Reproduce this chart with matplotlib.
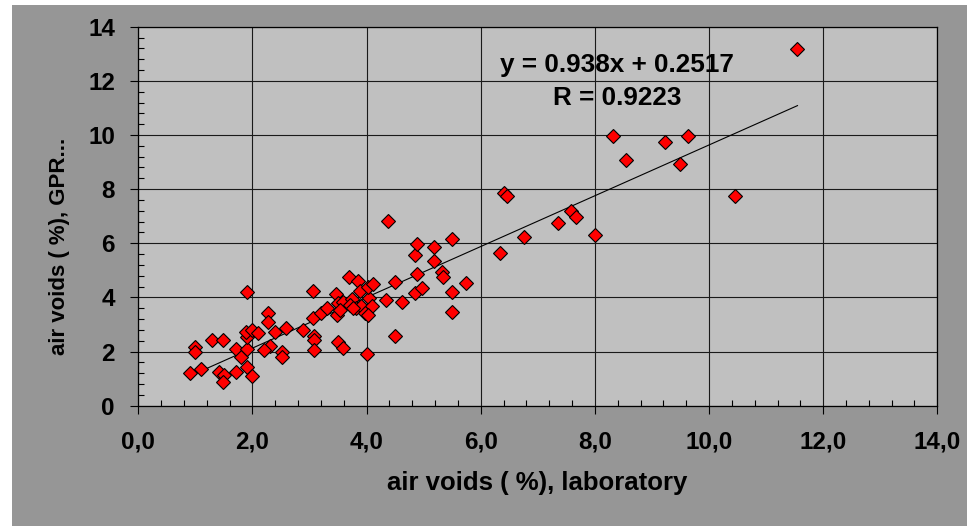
import numpy as np
import matplotlib.pyplot as plt
from matplotlib.ticker import MultipleLocator, FuncFormatter
from matplotlib.patches import Rectangle

plt.rcParams['font.family'] = ['Liberation Sans', 'DejaVu Sans']
plt.rcParams['font.weight'] = 'bold'

# air voids (%) - laboratory vs GPR
lab = [0.91, 0.99, 0.99, 1.10, 1.29, 1.49, 1.41, 1.50, 1.49, 1.71,
       1.71, 1.80, 1.90, 1.99, 1.90, 1.90, 1.89, 1.99, 2.10, 1.90,
       2.28, 2.28, 2.40, 2.58, 2.30, 2.21, 2.51, 2.51,
       2.89, 3.07, 3.07, 3.08, 3.08, 3.08, 3.21, 3.30, 3.48, 3.46,
       3.50, 3.50, 3.58, 3.58, 3.70, 3.85, 3.88, 3.74, 3.71, 3.81,
       3.91, 3.77, 4.05, 4.09, 3.97, 4.03, 4.03, 4.12, 4.00, 3.53,
       4.34, 4.38, 4.50, 4.50, 4.62, 4.84, 4.88, 4.88, 4.84, 4.97,
       5.18, 5.18, 5.33, 5.34, 5.49, 5.49, 5.49, 5.75,
       6.33, 6.41, 6.46, 6.75, 7.35, 7.58, 7.67, 8.00, 8.31, 8.54,
       9.23, 9.49, 9.64, 10.46, 11.55]
gpr = [1.20, 2.16, 2.00, 1.34, 2.43, 2.43, 1.26, 1.13, 0.86, 1.26,
       2.08, 1.81, 1.42, 1.10, 2.08, 2.55, 2.73, 2.80, 2.67, 4.19,
       3.41, 3.08, 2.73, 2.88, 2.21, 2.06, 2.00, 1.81,
       2.80, 4.25, 3.25, 2.59, 2.43, 2.06, 3.44, 3.60, 3.35, 4.13,
       3.78, 2.36, 3.84, 2.14, 4.77, 4.62, 4.25, 3.93, 3.72, 3.62,
       3.69, 3.60, 3.97, 3.69, 3.41, 3.35, 4.37, 4.48, 1.91, 3.52,
       3.90, 6.81, 4.56, 2.57, 3.82, 5.57, 5.96, 4.87, 4.17, 4.34,
       5.87, 5.36, 4.95, 4.77, 6.16, 4.19, 3.45, 4.54,
       5.64, 7.85, 7.76, 6.23, 6.74, 7.20, 6.96, 6.31, 9.96, 9.08,
       9.73, 8.94, 9.97, 7.76, 13.18]

slope = 0.938
intercept = 0.2517
r_value = 0.9223

fig = plt.figure(figsize=(9.67, 5.26), dpi=100)
fig.patches.append(Rectangle((12 / 967, 0), 1, 1 - 5 / 526, transform=fig.transFigure,
                             facecolor='#969696', edgecolor='none', zorder=-10))
ax = fig.add_axes([0.1430, 0.2287, 0.8263, 0.7205])
ax.set_facecolor('#c0c0c0')

ax.set_xlim(0, 14)
ax.set_ylim(0, 14)
ax.xaxis.set_major_locator(MultipleLocator(2))
ax.xaxis.set_minor_locator(MultipleLocator(0.4))
ax.yaxis.set_major_locator(MultipleLocator(2))
ax.yaxis.set_minor_locator(MultipleLocator(0.4))
ax.xaxis.set_major_formatter(FuncFormatter(lambda v, p: f'{v:.1f}'.replace('.', ',')))
ax.yaxis.set_major_formatter(FuncFormatter(lambda v, p: f'{v:.0f}'))

ax.grid(True, which='major', color='#1a1a1a', linewidth=0.8)
ax.set_axisbelow(True)
ax.tick_params(which='major', direction='out', length=5.8, width=0.8,
               labelsize=17.5, colors='black')
ax.tick_params(axis='x', which='major', pad=12)
ax.tick_params(axis='y', which='major', pad=11)
ax.tick_params(which='minor', direction='in', length=4.3, width=0.8)
for s in ax.spines.values():
    s.set_color('black')
    s.set_linewidth(0.9)

# trend line
xt = np.array([min(lab), max(lab)])
ax.plot(xt, slope * xt + intercept, color='black', linewidth=0.8, zorder=2)

ax.plot(lab, gpr, linestyle='none', marker='D', markersize=7.5,
        markerfacecolor='#ff0000', markeredgecolor='black', markeredgewidth=0.8, zorder=3)

ax.text(0.599, 0.899, f'y = {slope}x + {intercept}', transform=ax.transAxes,
        ha='center', va='center', fontsize=18.8, fontweight='bold')
ax.text(0.600, 0.812, f'R = {r_value}', transform=ax.transAxes,
        ha='center', va='center', fontsize=18.8, fontweight='bold')

fig.text(537 / 967, 1 - 483 / 526, 'air voids ( %), laboratory',
         ha='center', va='center', fontsize=18.5, fontweight='bold')
fig.text(59 / 967, 1 - 246.5 / 526, 'air voids ( %), GPR...', rotation=90,
         ha='center', va='center', fontsize=16, fontweight='bold')

fig.savefig('out.png', dpi=100)
